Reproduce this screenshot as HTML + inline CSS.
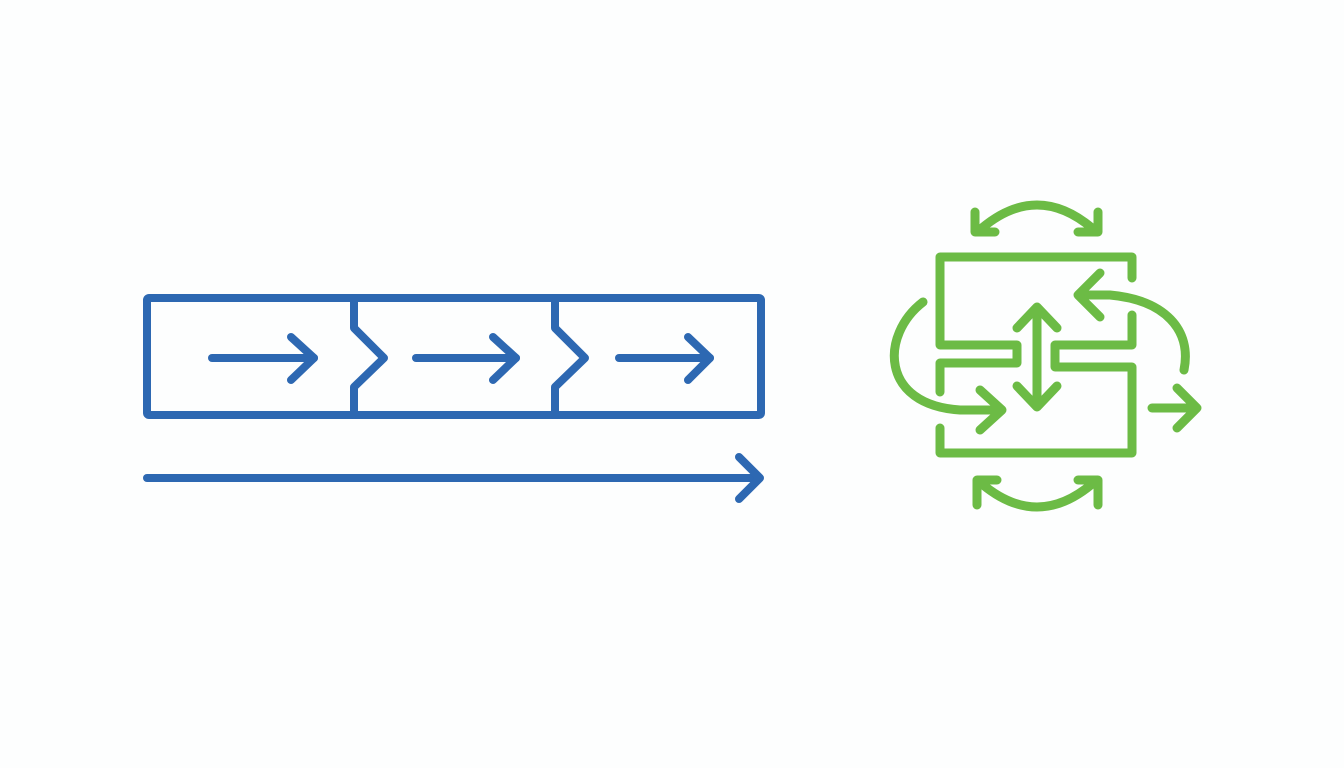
<!DOCTYPE html>
<html><head><meta charset="utf-8"><style>
html,body{margin:0;padding:0;background:#fdfefe;}
svg{display:block}
</style></head><body>
<svg width="1344" height="768" viewBox="0 0 1344 768" xmlns="http://www.w3.org/2000/svg">
<rect width="1344" height="768" fill="#fdfefe"/>
<g fill="none" stroke="#2d68b2" stroke-width="8" stroke-linecap="round" stroke-linejoin="round">
  <rect x="147" y="298" width="614" height="117" rx="2"/>
  <polyline points="354,298 354,328 384,358 354,387 354,415"/>
  <polyline points="555,298 555,328 585,358 555,387 555,415"/>
  <line x1="212" y1="358" x2="314" y2="358"/><polyline points="291,337 314,358 291,380"/>
  <line x1="416" y1="358" x2="516" y2="358"/><polyline points="493,337 516,358 493,380"/>
  <line x1="619" y1="358" x2="710" y2="358"/><polyline points="688,337 710,358 688,380"/>
  <line x1="147" y1="478" x2="759" y2="478"/><polyline points="739,457 760,478 739,499"/>
</g>
<g fill="none" stroke="#6cbb45" stroke-width="9" stroke-linecap="round" stroke-linejoin="round">
  <polyline points="1132,278 1132,257 940,257 940,345 1017,345 1017,363 940,363 940,392"/>
  <polyline points="1132,315 1132,345 1055,345 1055,367 1132,367 1132,453 940,453 940,428"/>
  <line x1="1037" y1="310" x2="1037" y2="404"/>
  <polyline points="1017,328 1037,307 1057,328"/>
  <polyline points="1017,386 1037,407 1057,386"/>
  <path d="M923,302 C880,335 880,405 960,410 L1000,410"/>
  <polyline points="980,390 1002,410 980,430"/>
  <path d="M1080,295 L1110,295 C1165,300 1192,330 1184,370"/>
  <polyline points="1100,273 1078,295 1100,317"/>
  <line x1="1152" y1="408" x2="1195" y2="408"/><polyline points="1177,388 1197,408 1177,428"/>
  <path d="M982,228 Q1037,182 1092,228"/>
  <polyline points="975,212 975,232 995,232"/>
  <polyline points="1098,212 1098,232 1078,232"/>
  <path d="M982,484 Q1037,530 1092,484"/>
  <polyline points="977,505 977,480 997,480"/>
  <polyline points="1098,505 1098,480 1078,480"/>
</g>
</svg>
</body></html>
